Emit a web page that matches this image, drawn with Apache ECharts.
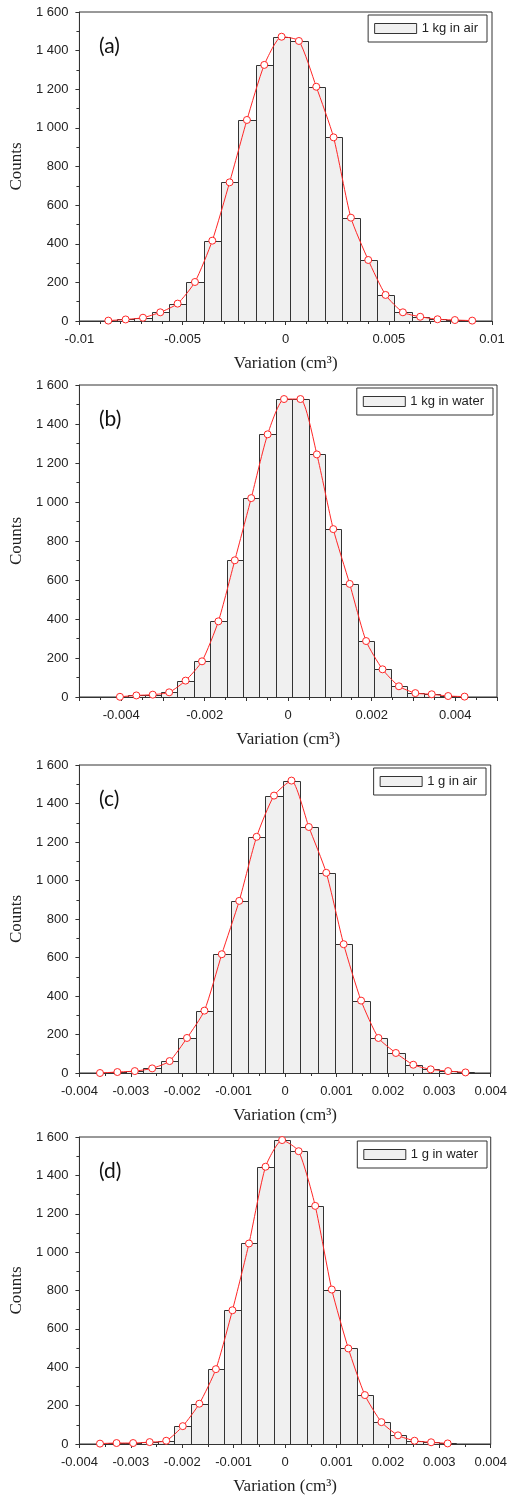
<!DOCTYPE html>
<html>
<head>
<meta charset="utf-8">
<script src="https://cdn.jsdelivr.net/npm/echarts@6/dist/echarts.min.js"></script>
<style>
  html, body { margin: 0; padding: 0; background: #fff; }
  #chart { width: 510px; height: 1496px; }
</style>
</head>
<body>
<div id="chart"></div>
<script>
// Histogram bin centres (cm^3) and counts for each measurement set
const centersA = [-0.00860, -0.00776, -0.00692, -0.00608, -0.00524, -0.00440, -0.00356, -0.00272, -0.00188, -0.00104, -0.00020,
                  0.00064, 0.00148, 0.00232, 0.00316, 0.00400, 0.00484, 0.00568, 0.00652, 0.00736, 0.00820, 0.00904];
const countsA  = [2, 8, 17, 45, 90, 202, 416, 718, 1041, 1326, 1472, 1450, 1213, 951, 535, 316, 135, 45, 22, 9, 5, 2];
const binWidthA = 0.00084;

const centersB = [-0.004030, -0.003637, -0.003244, -0.002851, -0.002458, -0.002065, -0.001672, -0.001279, -0.000886, -0.000493, -0.000100,
                  0.000293, 0.000686, 0.001079, 0.001472, 0.001865, 0.002258, 0.002651, 0.003044, 0.003437, 0.003830, 0.004223];
const countsB  = [1, 8, 12, 24, 84, 183, 388, 701, 1020, 1347, 1528, 1528, 1244, 861, 580, 287, 142, 55, 20, 14, 5, 2];
const binWidthB = 0.000393;

const centersC = [-0.003600, -0.003262, -0.002923, -0.002585, -0.002246, -0.001908, -0.001569, -0.001231, -0.000892, -0.000554, -0.000215,
                  0.000124, 0.000462, 0.000801, 0.001139, 0.001478, 0.001816, 0.002155, 0.002493, 0.002832, 0.003170, 0.003509];
const countsC  = [0, 5, 10, 24, 62, 182, 324, 617, 894, 1227, 1441, 1519, 1278, 1040, 669, 376, 182, 104, 43, 19, 10, 3];
const binWidthC = 0.000339;

const centersD = [-0.003600, -0.003278, -0.002956, -0.002634, -0.002312, -0.001990, -0.001668, -0.001346, -0.001024, -0.000702, -0.000380,
                  -0.000058, 0.000264, 0.000586, 0.000908, 0.001230, 0.001552, 0.001874, 0.002196, 0.002518, 0.002840, 0.003162];
const countsD  = [2, 5, 5, 10, 17, 93, 210, 390, 697, 1045, 1445, 1584, 1526, 1241, 805, 498, 255, 114, 45, 17, 9, 3];
const binWidthD = 0.000322;

const seriesNames = ['1 kg in air', '1 kg in water', '1 g in air', '1 g in water'];
const panelTags = ['(a)', '(b)', '(c)', '(d)'];
const yTicks = { min: 0, max: 1600, step: 200 };
const xRanges = [
  { min: -0.01, max: 0.01, step: 0.005, minor: 5, labelStep: 0.005 },
  { min: -0.005, max: 0.005, step: 0.001, minor: 2, labelStep: 0.002 },
  { min: -0.004, max: 0.004, step: 0.001, minor: 2, labelStep: 0.001 },
  { min: -0.004, max: 0.004, step: 0.001, minor: 2, labelStep: 0.001 }
];

const panels = [
  { centers: centersA, counts: countsA, width: binWidthA },
  { centers: centersB, counts: countsB, width: binWidthB },
  { centers: centersC, counts: countsC, width: binWidthC },
  { centers: centersD, counts: countsD, width: binWidthD }
];

// Plot-area boxes for the four stacked panels
const grids = [
  { left: 74, top: 12, width: 418, height: 309 },
  { left: 74, top: 385, width: 423, height: 312 },
  { left: 74, top: 765, width: 417, height: 308 },
  { left: 74, top: 1137, width: 418, height: 310 }
];
const legendPos = [
  { right: 23, top: 15 },
  { right: 17, top: 388 },
  { right: 24, top: 768 },
  { right: 23, top: 1141 }
];

const SANS = '"Liberation Sans", Arial, sans-serif';
const SERIF = '"Liberation Serif", "Times New Roman", serif';
const RED = '#ff2626';
const BAR_FILL = '#f0f0f0';
const BAR_EDGE = '#333333';

function thousands(v) {
  return String(v).replace(/\B(?=(\d{3})+(?!\d))/g, ' ');
}

const option = {
  backgroundColor: '#ffffff',
  animation: false,
  title: [], grid: [], xAxis: [], yAxis: [], legend: [], series: []
};

panels.forEach((p, i) => {
  const xr = xRanges[i];
  option.grid.push(Object.assign({ show: true, borderColor: '#333', borderWidth: 1, backgroundColor: 'transparent', containLabel: false }, grids[i]));
  option.title.push({
    text: panelTags[i],
    left: 94,
    top: grids[i].top + 19,
    textStyle: { fontFamily: 'Lato, "Open Sans", sans-serif', fontSize: 21, fontWeight: 'normal', color: '#111' }
  });
  option.xAxis.push({
    type: 'value', gridIndex: i,
    min: xr.min, max: xr.max, interval: xr.step,
    name: 'Variation (cm³)', nameLocation: 'middle', nameGap: 34,
    nameTextStyle: { fontFamily: SERIF, fontSize: 17, color: '#222' },
    axisLine: { show: true, onZero: false, lineStyle: { color: '#333', width: 1 } },
    axisTick: { show: true, inside: false, length: 4, lineStyle: { color: '#333' } },
    minorTick: { show: true, splitNumber: xr.minor, length: 3, lineStyle: { color: '#333' } },
    splitLine: { show: false },
    axisLabel: {
      fontFamily: SANS, fontSize: 13, color: '#222', margin: 12,
      showMinLabel: true, showMaxLabel: true,
      formatter: function (v) {
        const k = Math.round(v / xr.labelStep * 1e6) / 1e6;
        if (Math.abs(k - Math.round(k)) > 1e-6) return '';
        return String(parseFloat(v.toFixed(6)));
      }
    }
  });
  option.yAxis.push({
    type: 'value', gridIndex: i,
    min: yTicks.min, max: yTicks.max, interval: yTicks.step,
    name: 'Counts', nameLocation: 'middle', nameGap: 42,
    nameTextStyle: { fontFamily: SERIF, fontSize: 17, color: '#222' },
    axisLine: { show: true, onZero: false, lineStyle: { color: '#333', width: 1 } },
    axisTick: { show: true, length: 4, lineStyle: { color: '#333' } },
    minorTick: { show: true, splitNumber: 2, length: 3, lineStyle: { color: '#333' } },
    splitLine: { show: false },
    axisLabel: { fontFamily: SANS, fontSize: 13, color: '#222', margin: 11, formatter: thousands }
  });
  option.legend.push(Object.assign({
    data: [{ name: seriesNames[i], icon: 'rect', itemStyle: { color: BAR_FILL, borderColor: BAR_EDGE, borderWidth: 1 } }],
    orient: 'horizontal',
    itemWidth: 42, itemHeight: 10, itemGap: 6,
    padding: [7, 9, 7, 6],
    borderColor: '#333', borderWidth: 1, borderRadius: 0,
    backgroundColor: '#fff',
    selectedMode: false,
    textStyle: { fontFamily: SANS, fontSize: 13, color: '#222' }
  }, legendPos[i]));

  const pts = p.centers.map((c, j) => [c, p.counts[j]]);
  const half = p.width / 2;
  option.series.push({
    type: 'custom', name: seriesNames[i],
    xAxisIndex: i, yAxisIndex: i,
    data: pts, encode: { x: 0, y: 1 },
    clip: true, z: 2,
    renderItem: function (params, api) {
      const c = api.value(0), v = api.value(1);
      const tl = api.coord([c - half, v]);
      const br = api.coord([c + half, 0]);
      const x0 = Math.round(tl[0]) + 0.5, x1 = Math.round(br[0]) + 0.5;
      const y0 = Math.round(tl[1]) + 0.5, y1 = Math.round(br[1]) + 0.5;
      return {
        type: 'rect',
        shape: { x: x0, y: y0, width: x1 - x0, height: y1 - y0 },
        style: { fill: BAR_FILL, stroke: BAR_EDGE, lineWidth: 1 }
      };
    }
  });
  option.series.push({
    type: 'line', name: seriesNames[i] + ' profile',
    xAxisIndex: i, yAxisIndex: i,
    data: pts, smooth: 0.2,
    symbol: 'circle', symbolSize: 7, showAllSymbol: true,
    itemStyle: { color: '#fff', borderColor: RED, borderWidth: 1 },
    lineStyle: { color: RED, width: 1 },
    z: 3
  });
});

const chart = echarts.init(document.getElementById('chart'), null, { renderer: 'canvas' });
chart.setOption(option);
</script>
</body>
</html>
